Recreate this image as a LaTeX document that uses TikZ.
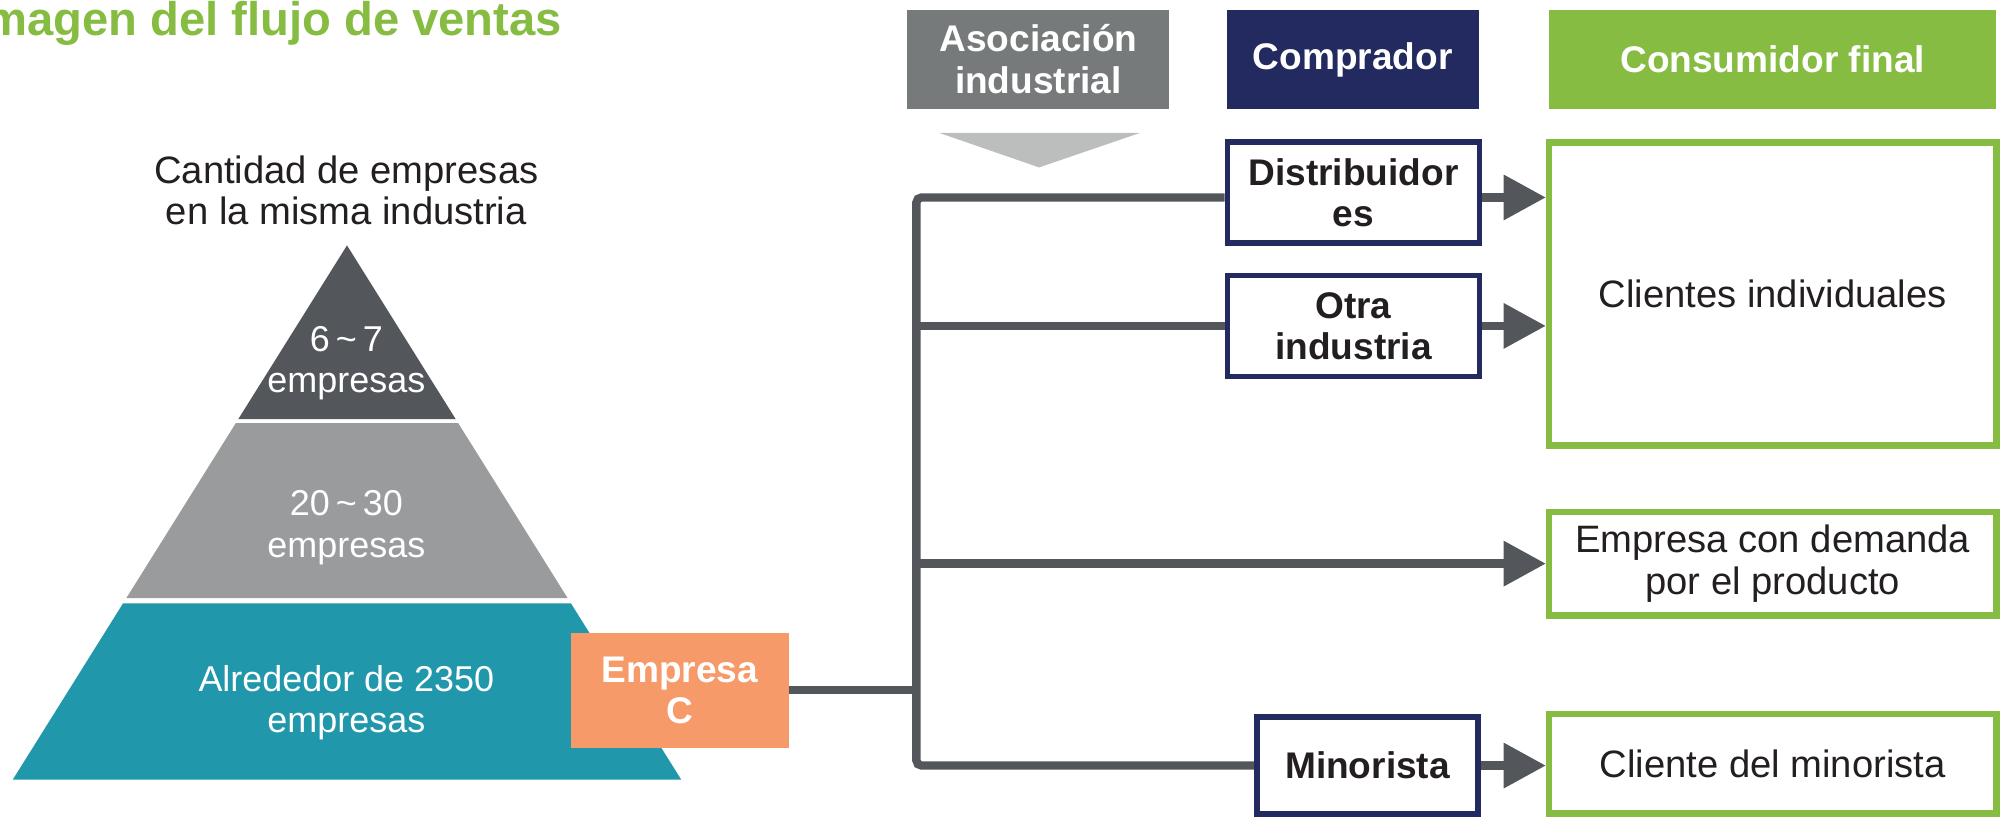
\documentclass[tikz,border=0pt]{standalone}
\usepackage{fontspec}
\setmainfont{Liberation Sans}
\usepackage{tikz}
\usetikzlibrary{positioning,calc,arrows.meta,backgrounds}
\definecolor{darkGray}{RGB}{83,86,90}
\definecolor{midGray}{RGB}{154,155,157}
\definecolor{headGray}{RGB}{119,122,122}
\definecolor{lightGray}{RGB}{188,190,190}
\definecolor{navyBlue}{RGB}{34,42,95}
\definecolor{leafGreen}{RGB}{134,188,66}
\definecolor{tealBlue}{RGB}{32,151,170}
\definecolor{salmon}{RGB}{247,154,106}
\definecolor{inkBlack}{RGB}{35,31,32}

\begin{document}
\begin{tikzpicture}[x=0.2mm, y=-0.2mm,
        every node/.style={font=\fontsize{17}{18.4}\selectfont, align=center, inner sep=0pt},
        tier/.style={text=white, font=\fontsize{16}{18.4}\selectfont},
        header/.style={fill=#1, text=white, font=\fontsize{16.5}{18.8}\selectfont\bfseries, minimum height=15.4mm},
        buyer/.style={draw=navyBlue, line width=0.9mm, fill=white, text=inkBlack, font=\fontsize{16.5}{18.2}\selectfont\bfseries},
        client/.style={draw=leafGreen, line width=1mm, fill=white, text=inkBlack, minimum width=70mm},
        flow/.style={draw=darkGray, line width=1.3mm, rounded corners=0.8mm},
        flowarrow/.style={flow, -{Triangle[length=6.6mm, width=6.8mm]}}]
        \useasboundingbox (0,0) rectangle (1568,639);

        \node[font=\fontsize{21}{25}\selectfont\bfseries, text=leafGreen, anchor=base east] (title) at (440,28)
            {Imagen del flujo de ventas};

        % pyramid
        \coordinate (apex) at (271.5,192);
        \coordinate (baseL) at (10,610);
        \coordinate (baseR) at (533,610);
        \fill[darkGray] (apex) -- ($(apex)!0.3254!(baseR)$) -- ($(apex)!0.3254!(baseL)$) -- cycle;
        \fill[midGray] ($(apex)!0.3325!(baseL)$) -- ($(apex)!0.3325!(baseR)$)
            -- ($(apex)!0.6603!(baseR)$) -- ($(apex)!0.6603!(baseL)$) -- cycle;
        \fill[tealBlue] ($(apex)!0.6699!(baseL)$) -- ($(apex)!0.6699!(baseR)$) -- (baseR) -- (baseL) -- cycle;

        \node[text=inkBlack] (count) at (271,149) {Cantidad de empresas\\en la misma industria};
        \node[tier] (tier1) at (271,284) {6\,\textasciitilde\,7\\empresas};
        \node[tier] (tier2) at (271,413) {20\,\textasciitilde\,30\\empresas};
        \node[tier] (tier3) at (271,550) {Alrededor de 2350\\empresas};
        \node[fill=salmon, text=white, font=\fontsize{16.5}{18.2}\selectfont\bfseries, minimum width=34mm, minimum height=18mm] (empC) at (532,540)
            {Empresa\\C};

        % headers
        \node[header=headGray, minimum width=41mm] (asoc) at (812.5,46.5) {Asociación\\industrial};
        \node[header=navyBlue, minimum width=39.4mm] (comp) at (1058.5,46.5) {Comprador};
        \node[header=leafGreen, minimum width=70mm] (cons) at (1387,46.5) {Consumidor final};
        \fill[lightGray] (735,104) -- (892,104) -- (813,131) -- cycle;

        % buyers and final consumers
        \node[buyer, minimum width=39.4mm, minimum height=15.8mm] (dist) at (1059,150.5) {Distribuidor\\es};
        \node[buyer, minimum width=39.4mm, minimum height=15.8mm] (otra) at (1059,255) {Otra\\industria};
        \node[buyer, minimum width=34.6mm, minimum height=15.2mm] (mino) at (1070,599) {Minorista};

        \node[client, minimum height=47.4mm] (indiv) at (1387,230) {Clientes individuales};
        \node[client, minimum height=16.2mm] (demand) at (1387,441) {Empresa con demanda\\por el producto};
        \node[client, minimum height=15.6mm] (minoCli) at (1387,597.5) {Cliente del minorista};

        \coordinate (trunk) at (717,540);
        \begin{scope}[on background layer]
            \draw[flow] (empC.east) -- (trunk);
            \draw[flow] ([yshift=-0.8mm]dist.west) -| (trunk) |- (mino.west);
            \draw[flow] (trunk |- otra.west) -- (otra.west);
        \end{scope}
        \draw[flowarrow] (trunk |- demand.west) -- (demand.west);
        \draw[flowarrow] ([yshift=-0.8mm]dist.east) -- ([yshift=-0.8mm]dist.east -| indiv.west);
        \draw[flowarrow] (otra.east) -- (otra.east -| indiv.west);
        \draw[flowarrow] (mino.east) -- (mino.east -| minoCli.west);
    \end{tikzpicture}
\end{document}
